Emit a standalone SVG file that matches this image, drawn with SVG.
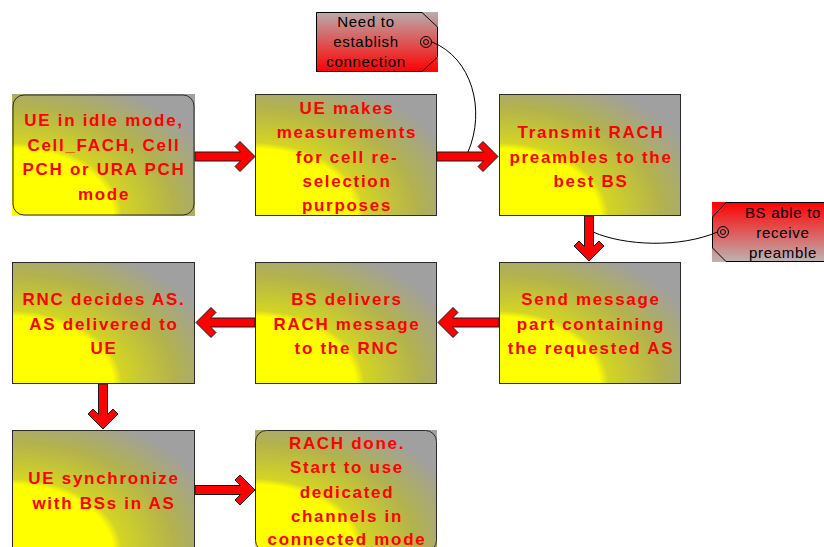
<svg xmlns="http://www.w3.org/2000/svg" width="824" height="547" viewBox="0 0 824 547">
  <defs>
    <!-- yellow-to-grey corner fill used by every step box -->
    <radialGradient id="boxFill" cx="0" cy="1" fx="0" fy="1" r="1.2">
      <stop offset="0" stop-color="#ffff00"/>
      <stop offset="0.46" stop-color="#ffff00"/>
      <stop offset="0.5" stop-color="#d4d424"/>
      <stop offset="0.75" stop-color="#b2b24e"/>
      <stop offset="1" stop-color="#a0a0a0"/>
    </radialGradient>
    <linearGradient id="tagDown" x1="0" y1="0" x2="0" y2="1">
      <stop offset="0" stop-color="#b9acac"/>
      <stop offset="1" stop-color="#ff0000"/>
    </linearGradient>
    <linearGradient id="tagUp" x1="0" y1="0" x2="0" y2="1">
      <stop offset="0" stop-color="#ff0000"/>
      <stop offset="1" stop-color="#bdb4b4"/>
    </linearGradient>
  </defs>
  <style>
    .box { fill: url(#boxFill); }
    .edge { fill: none; stroke: #2b2b2b; stroke-width: 1; }
    .step { font-family: "Liberation Sans", Arial, sans-serif; font-weight: bold; font-size: 17px; letter-spacing: 1.7px; fill: #ff0000; text-anchor: middle; }
    .note { font-family: "Liberation Sans", Arial, sans-serif; font-size: 15px; letter-spacing: 0.7px; fill: #000; text-anchor: middle; }
    .tagEdge { fill: none; stroke: #000; stroke-width: 1; }
    .hole { fill: none; stroke: #000; stroke-width: 1; }
    .arrow { fill: #ff0000; stroke: #1a1a1a; stroke-width: 1; stroke-linejoin: miter; }
    .link { fill: none; stroke: #000; stroke-width: 1; }
  </style>

  <rect width="824" height="547" fill="#ffffff"/>

  <!-- step boxes -->
  <g id="idle">
    <rect class="box" x="12" y="94" width="183" height="122"/>
    <rect class="edge" x="13" y="95" width="181" height="120" rx="11"/>
    <text class="step" x="104" y="126">UE in idle mode,</text>
    <text class="step" x="104" y="150.5">Cell_FACH, Cell</text>
    <text class="step" x="104" y="175">PCH or URA PCH</text>
    <text class="step" x="104" y="199.5">mode</text>
  </g>

  <g id="measure">
    <rect class="box" x="255" y="94" width="182" height="122"/>
    <rect class="edge" x="255.5" y="94.5" width="181" height="121"/>
    <text class="step" x="347" y="114">UE makes</text>
    <text class="step" x="347" y="138.3">measurements</text>
    <text class="step" x="347" y="162.6">for cell re-</text>
    <text class="step" x="347" y="187">selection</text>
    <text class="step" x="347" y="211">purposes</text>
  </g>

  <g id="preamble">
    <rect class="box" x="499" y="94" width="182" height="122"/>
    <rect class="edge" x="499.5" y="94.5" width="181" height="121"/>
    <text class="step" x="591" y="138">Transmit RACH</text>
    <text class="step" x="591" y="162.5">preambles to the</text>
    <text class="step" x="591" y="187">best BS</text>
  </g>

  <g id="message">
    <rect class="box" x="499" y="262" width="182" height="122"/>
    <rect class="edge" x="499.5" y="262.5" width="181" height="121"/>
    <text class="step" x="591" y="305">Send message</text>
    <text class="step" x="591" y="329.5">part containing</text>
    <text class="step" x="591" y="354">the requested AS</text>
  </g>

  <g id="deliver">
    <rect class="box" x="255" y="262" width="182" height="122"/>
    <rect class="edge" x="255.5" y="262.5" width="181" height="121"/>
    <text class="step" x="347" y="305">BS delivers</text>
    <text class="step" x="347" y="329.5">RACH message</text>
    <text class="step" x="347" y="354">to the RNC</text>
  </g>

  <g id="decide">
    <rect class="box" x="12" y="262" width="183" height="122"/>
    <rect class="edge" x="12.5" y="262.5" width="182" height="121"/>
    <text class="step" x="104" y="305">RNC decides AS.</text>
    <text class="step" x="104" y="329.5">AS delivered to</text>
    <text class="step" x="104" y="354">UE</text>
  </g>

  <g id="sync">
    <rect class="box" x="12" y="430" width="183" height="122"/>
    <rect class="edge" x="12.5" y="430.5" width="182" height="121"/>
    <text class="step" x="104" y="484">UE synchronize</text>
    <text class="step" x="104" y="508.5">with BSs in AS</text>
  </g>

  <g id="done">
    <rect class="box" x="255" y="430" width="182" height="122"/>
    <rect class="edge" x="255.5" y="430.5" width="181" height="121" rx="11"/>
    <text class="step" x="347" y="449">RACH done.</text>
    <text class="step" x="347" y="473">Start to use</text>
    <text class="step" x="347" y="497.5">dedicated</text>
    <text class="step" x="347" y="522">channels in</text>
    <text class="step" x="347" y="545">connected mode</text>
  </g>

  <!-- callout tags -->
  <g id="needConnection">
    <rect x="316" y="12" width="122" height="60" fill="url(#tagDown)"/>
    <polygon class="tagEdge" points="316.5,12.5 422,12.5 437.5,27 437.5,57 422,71.5 316.5,71.5"/>
    <circle class="hole" cx="426" cy="42" r="5.5"/>
    <circle class="hole" cx="426" cy="42" r="2.5"/>
    <text class="note" x="366" y="27">Need to</text>
    <text class="note" x="366" y="47">establish</text>
    <text class="note" x="366" y="67">connection</text>
  </g>

  <g id="receivePreamble">
    <rect x="712" y="202" width="112" height="60" fill="url(#tagUp)"/>
    <polyline class="tagEdge" points="824,202.5 726,202.5 712.5,217 712.5,248 726,261.5 824,261.5"/>
    <circle class="hole" cx="723" cy="232" r="5.5"/>
    <circle class="hole" cx="723" cy="232" r="2.5"/>
    <text class="note" x="783" y="218">BS able to</text>
    <text class="note" x="783" y="238">receive</text>
    <text class="note" x="783" y="258">preamble</text>
  </g>

  <!-- connectors: block arrows between steps, thin leader lines to tags -->
  <g id="connectors">
    <polygon class="arrow" transform="translate(255,156.5)" points="-60,-4.5 -14.5,-4.5 -20,-10 -15,-15 0,0 -15,15 -20,10 -14.5,4.5 -60,4.5"/>
    <polygon class="arrow" transform="translate(498,156.5)" points="-61,-4.5 -14.5,-4.5 -20,-10 -15,-15 0,0 -15,15 -20,10 -14.5,4.5 -61,4.5"/>
    <polygon class="arrow" transform="translate(589,261) rotate(90)" points="-45,-4.5 -14.5,-4.5 -20,-10 -15,-15 0,0 -15,15 -20,10 -14.5,4.5 -45,4.5"/>
    <polygon class="arrow" transform="translate(438,322.5) rotate(180)" points="-61,-4.5 -14.5,-4.5 -20,-10 -15,-15 0,0 -15,15 -20,10 -14.5,4.5 -61,4.5"/>
    <polygon class="arrow" transform="translate(196,322.5) rotate(180)" points="-59,-4.5 -14.5,-4.5 -20,-10 -15,-15 0,0 -15,15 -20,10 -14.5,4.5 -59,4.5"/>
    <polygon class="arrow" transform="translate(103,429) rotate(90)" points="-45,-4.5 -14.5,-4.5 -20,-10 -15,-15 0,0 -15,15 -20,10 -14.5,4.5 -45,4.5"/>
    <polygon class="arrow" transform="translate(255,490)" points="-60,-4.5 -14.5,-4.5 -20,-10 -15,-15 0,0 -15,15 -20,10 -14.5,4.5 -60,4.5"/>

    <path class="link" d="M432,42 C472,58 486,110 468,152"/>
    <path class="link" d="M593,232 C625,246 680,248 717.5,232"/>
  </g>
</svg>
